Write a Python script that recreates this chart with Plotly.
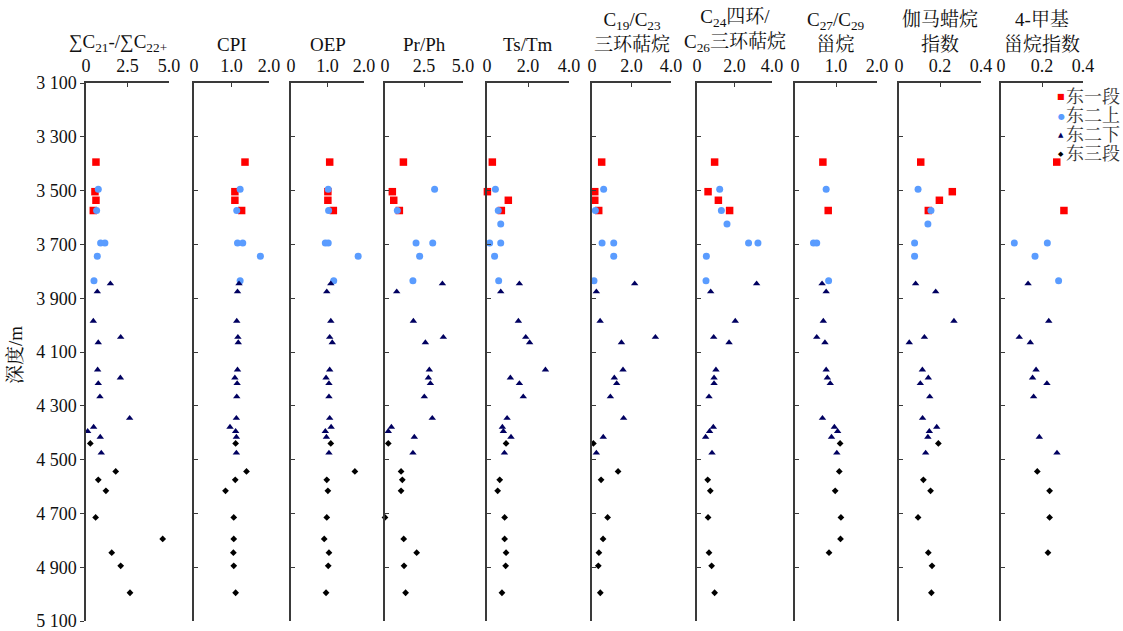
import plotly.graph_objects as go

# ---------------- data ----------------
depth_ticks = [3100, 3300, 3500, 3700, 3900, 4100, 4300, 4500, 4700, 4900, 5100]
depth_tick_labels = ["3 100", "3 300", "3 500", "3 700", "3 900", "4 100",
                     "4 300", "4 500", "4 700", "4 900", "5 100"]

group_names = ["东一段", "东二上", "东二下", "东三段"]

# sample depths (m) of each member
depth_e1 = [3394, 3504, 3536, 3574]
depth_e2u = [3495, 3574, 3624, 3695, 3695, 3744, 3835]
depth_e2l = [3846, 3876, 3985, 4045, 4065, 4166, 4196, 4217, 4266, 4346,
             4379, 4395, 4416, 4475]
depth_e3 = [4440, 4544, 4575, 4616, 4715, 4795, 4846, 4895, 4995]

# ∑C21-/∑C22+
lh_e1 = [0.60, 0.54, 0.60, 0.44]
lh_e2u = [0.74, 0.64, None, 0.88, 1.14, 0.68, 0.48]
lh_e2l = [1.47, 0.68, 0.44, 2.09, 0.74, 0.70, 2.07, 0.74, 0.84, 2.63, 0.46, 0.10, 0.86, 0.92]
lh_e3 = [0.26, 1.79, 0.74, 1.20, 0.58, 4.62, 1.55, 2.09, 2.65]

# CPI
cpi_e1 = [1.36, 1.09, 1.09, 1.27]
cpi_e2u = [1.23, 1.14, None, 1.16, 1.30, 1.77, 1.23]
cpi_e2l = [1.20, 1.16, 1.14, 1.17, 1.18, 1.16, 1.09, 1.15, 1.14, 1.13, 0.96, 1.11, 1.13, 1.13]
cpi_e3 = [1.11, 1.40, 1.10, 0.84, 1.06, 1.06, 1.05, 1.06, 1.11]

# OEP
oep_e1 = [1.06, 1.01, 1.01, 1.16]
oep_e2u = [1.02, 1.03, None, 0.94, 1.02, 1.84, 1.17]
oep_e2l = [1.09, 0.98, 1.09, 1.06, 1.13, 1.06, 0.96, 1.04, 1.04, 1.06, 1.10, 0.94, 0.97, 1.04]
oep_e3 = [1.09, 1.75, 0.98, 1.01, 0.98, 0.91, 1.04, 1.02, 0.96]

# Pr/Ph
prph_e1 = [1.18, 0.47, 0.56, 0.92]
prph_e2u = [3.18, 0.79, None, 1.99, 3.06, 2.22, 1.79]
prph_e2l = [3.68, 0.75, 1.82, 3.74, 2.59, 2.84, 2.78, 2.91, 2.52, 3.03, 0.41, 0.21, 1.88, 1.79]
prph_e3 = [0.21, 1.03, 1.11, 1.03, 0.00, 1.20, 2.03, 1.22, 1.32]

# Ts/Tm
tstm_e1 = [0.26, 0.02, 1.04, 0.70]
tstm_e2u = [0.41, 0.55, 0.67, 0.13, 0.67, 0.37, 0.57]
tstm_e2l = [1.58, 0.67, 1.53, 1.89, 2.08, 2.85, 1.14, 1.58, 1.77, 0.98, 0.75, 0.80, 1.17, 0.85]
tstm_e3 = [0.93, None, 0.62, 0.52, 0.86, 0.86, 0.93, 0.91, 0.73]

# C19/C23 tricyclic terpanes
c19_e1 = [0.49, 0.14, 0.14, 0.34]
c19_e2u = [0.59, 0.17, None, 0.51, 1.10, 1.10, 0.10]
c19_e2l = [2.16, 0.22, 0.41, 3.21, 1.49, 1.57, 1.13, 1.25, 0.93, 1.60, None, None, 0.57, 0.22]
c19_e3 = [0.07, 1.32, 0.46, None, 0.79, 0.56, 0.35, 0.32, 0.42]

# C24 tetracyclic / C26 tricyclic terpanes
c24_e1 = [0.94, 0.59, 1.14, 1.74]
c24_e2u = [1.21, 1.30, 1.60, 2.75, 3.25, 0.50, 0.48]
c24_e2l = [3.18, 0.73, 2.04, 0.89, 1.71, 1.01, 0.91, 0.91, 0.64, None, 0.87, 0.67, 0.46, 0.80]
c24_e3 = [None, None, 0.57, 0.71, 0.59, None, 0.64, 0.78, 0.94]

# C27/C29 steranes
c27_e1 = [0.68, None, None, 0.81]
c27_e2u = [0.76, None, None, 0.45, 0.53, None, 0.82]
c27_e2l = [0.66, 0.76, 0.69, 0.53, 0.73, 0.76, 0.79, 0.86, None, 0.67, 0.96, 1.04, 0.89, 1.02]
c27_e3 = [1.10, 1.08, None, 0.98, 1.12, 1.11, 0.83, None, None]

# gammacerane index
gam_e1 = [0.106, 0.260, 0.197, 0.143]
gam_e2u = [0.093, 0.156, 0.141, 0.076, None, 0.076, None]
gam_e2l = [0.081, 0.179, 0.268, 0.124, 0.050, 0.114, 0.143, 0.104, 0.150, 0.115, 0.184, 0.148, 0.141, 0.130]
gam_e3 = [0.192, None, 0.119, 0.154, 0.093, None, 0.143, 0.161, 0.158]

# 4-methylsterane index
mst_e1 = [0.272, None, None, 0.307]
mst_e2u = [None, None, None, 0.065, 0.226, 0.166, 0.281]
mst_e2l = [0.132, None, 0.233, 0.089, 0.143, 0.171, 0.154, 0.224, 0.159, None, None, None, 0.187, 0.273]
mst_e3 = [None, 0.177, None, 0.237, 0.237, None, 0.229, None, None]

# ---------------- layout ----------------
W, H = 1123, 631
Y_TOP_PX, Y_BOT_PX = 83, 621
FONT = "'Liberation Serif', 'Times New Roman', 'Noto Serif CJK SC', 'Noto Sans CJK SC', serif"
AX = "#3a3a3a"

depths = [depth_e1, depth_e2u, depth_e2l, depth_e3]
styles = [
    dict(symbol="square", size=7.5, color="#ff0000"),
    dict(symbol="circle", size=7, color="#5a9cff"),
    dict(symbol="triangle-up", size=6.5, color="#000060"),
    dict(symbol="diamond", size=5.2, color="#000000"),
]

panels = [
    ("∑C<sub>21</sub>-/∑C<sub>22+</sub>", 86, 169, 5.0, [0, 2.5, 5.0], ["0", "2.5", "5.0"],
     [lh_e1, lh_e2u, lh_e2l, lh_e3], 118),
    ("CPI", 194, 269, 2.0, [0, 1.0, 2.0], ["0", "1.0", "2.0"],
     [cpi_e1, cpi_e2u, cpi_e2l, cpi_e3], None),
    ("OEP", 291, 364, 2.0, [0, 1.0, 2.0], ["0", "1.0", "2.0"],
     [oep_e1, oep_e2u, oep_e2l, oep_e3], None),
    ("Pr/Ph", 385, 463, 5.0, [0, 2.5, 5.0], ["0", "2.5", "5.0"],
     [prph_e1, prph_e2u, prph_e2l, prph_e3], None),
    ("Ts/Tm", 487, 569, 4.0, [0, 2.0, 4.0], ["0", "2.0", "4.0"],
     [tstm_e1, tstm_e2u, tstm_e2l, tstm_e3], None),
    ("C<sub>19</sub>/C<sub>23</sub><br>三环萜烷", 592, 671, 4.0, [0, 2.0, 4.0], ["0", "2.0", "4.0"],
     [c19_e1, c19_e2u, c19_e2l, c19_e3], None),
    ("C<sub>24</sub>四环/<br>C<sub>26</sub>三环萜烷", 697, 772, 4.0, [0, 2.0, 4.0], ["0", "2.0", "4.0"],
     [c24_e1, c24_e2u, c24_e2l, c24_e3], None),
    ("C<sub>27</sub>/C<sub>29</sub><br>甾烷", 795, 877, 2.0, [0, 1.0, 2.0], ["0", "1.0", "2.0"],
     [c27_e1, c27_e2u, c27_e2l, c27_e3], None),
    ("伽马蜡烷<br>指数", 899, 981, 0.4, [0, 0.2, 0.4], ["0", "0.2", "0.4"],
     [gam_e1, gam_e2u, gam_e2l, gam_e3], None),
    ("4-甲基<br>甾烷指数", 1001, 1083, 0.4, [0, 0.2, 0.4], ["0", "0.2", "0.4"],
     [mst_e1, mst_e2u, mst_e2l, mst_e3], None),
]

fig = go.Figure()
y_domain = [1 - Y_BOT_PX / H, 1 - Y_TOP_PX / H]
annotations = []

for i, (title, px0, px1, xmax, tv, tt, series, title_cx) in enumerate(panels, start=1):
    sfx = "" if i == 1 else str(i)
    for g, vals in enumerate(series):
        st = styles[g]
        fig.add_trace(go.Scatter(
            x=vals, y=depths[g], mode="markers", name=group_names[g],
            xaxis="x" + sfx, yaxis="y" + sfx, showlegend=False, cliponaxis=False,
            marker=dict(symbol=st["symbol"], size=st["size"], color=st["color"],
                        line=dict(width=0)),
        ))
    fig.layout["xaxis" + sfx] = dict(
        domain=[px0 / W, px1 / W], range=[0, xmax], side="top", anchor="y" + sfx,
        tickmode="array", tickvals=tv, ticktext=tt, ticks="inside", ticklen=4,
        tickcolor=AX, tickwidth=1.3, showline=True, linecolor=AX, linewidth=1.5,
        showgrid=False, zeroline=False, automargin=False, ticklabelstandoff=2,
        tickfont=dict(family=FONT, size=18, color="#111"),
    )
    fig.layout["yaxis" + sfx] = dict(
        domain=y_domain, range=[5100, 3100], anchor="x" + sfx,
        tickmode="array", tickvals=depth_ticks, ticktext=depth_tick_labels,
        showticklabels=(i == 1), ticks="outside" if i == 1 else "inside", ticklen=4,
        tickcolor=AX, tickwidth=1.3, showline=True, linecolor=AX, linewidth=1.5,
        showgrid=False, zeroline=False, automargin=False, ticklabeloverflow="allow",
        tickfont=dict(family=FONT, size=18, color="#111"),
    )
    cx = title_cx if title_cx is not None else (px0 + px1) / 2
    annotations.append(dict(
        text=title, x=cx / W, y=1 - 57 / H, xref="paper", yref="paper",
        xanchor="center", yanchor="bottom", showarrow=False,
        font=dict(family=FONT, size=19, color="#111"),
    ))

# depth axis title
annotations.append(dict(
    text="深度/m", x=15 / W, y=1 - 355 / H, xref="paper", yref="paper",
    textangle=-90, showarrow=False, xanchor="center", yanchor="middle",
    font=dict(family=FONT, size=19, color="#111"),
))

# legend rows
legend_glyphs = ["■", "●", "▲", "◆"]
legend_glyph_sizes = [8, 8, 7, 7]
for k, name in enumerate(group_names):
    ry = 97 + k * 19
    annotations.append(dict(
        text=legend_glyphs[k], x=1061 / W, y=1 - ry / H, xref="paper", yref="paper",
        xanchor="center", yanchor="middle", showarrow=False,
        font=dict(family="DejaVu Sans", size=legend_glyph_sizes[k], color=styles[k]["color"]),
    ))
    annotations.append(dict(
        text=name, x=1064 / W, y=1 - ry / H, xref="paper", yref="paper",
        xanchor="left", yanchor="middle", showarrow=False,
        font=dict(family=FONT, size=18, color="#333"),
    ))

fig.update_layout(
    width=W, height=H, margin=dict(l=0, r=0, t=0, b=0),
    paper_bgcolor="white", plot_bgcolor="white",
    annotations=annotations, showlegend=False,
    font=dict(family=FONT),
)

fig.write_html("out.html", include_plotlyjs=True, config={"displayModeBar": False})
